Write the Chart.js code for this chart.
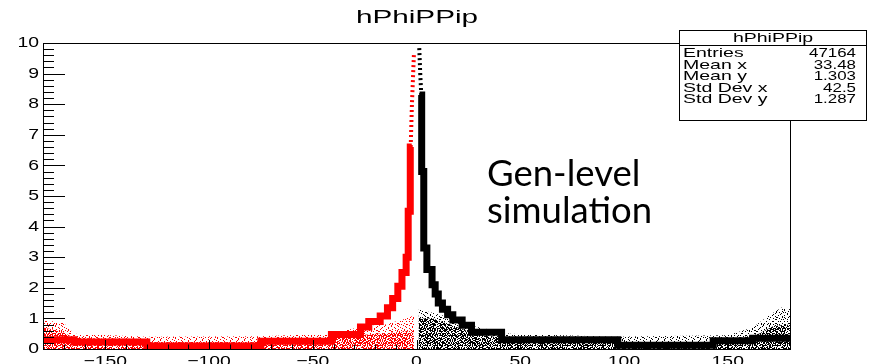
<!DOCTYPE html>
<html>
<head>
<meta charset="utf-8">
<script src="https://cdn.jsdelivr.net/npm/chart.js@4.4.1/dist/chart.umd.min.js"></script>
<style>
  html, body { margin: 0; padding: 0; background: #fff; }
  #wrap { position: relative; width: 870px; height: 364px; }
  #note { position: absolute; left: 487px; top: 154px; font-family: Lato, sans-serif; font-size: 36.5px; line-height: 37px; color: #000; }
</style>
</head>
<body>
<div id="wrap">
  <canvas id="chart" width="870" height="364"></canvas>
  <div id="note">Gen-level<br>simulation</div>
</div>
<script>
// axis labels
const xTicks = [-150, -100, -50, 0, 50, 100, 150];
const yTicks = [0, 1, 2, 3, 4, 5, 6, 7, 8, 9, 10];

// main kinematic band, phi < 0 (red) and phi > 0 (black), one level per bin
const redStepX = [-180, -165, -130, -75, -41, -27, -23, -17.5, -14, -11.5, -9, -7, -5, -4, -3, -2.3];
const redStepY = [0.3, 0.23, 0.1, 0.25, 0.47, 0.72, 0.9, 1.08, 1.35, 1.65, 2.05, 2.5, 3.0, 4.5, 6.6, 6.6];
const blackStepX = [1.5, 2.5, 3.5, 5, 7.5, 9, 10.5, 12.5, 15, 17.5, 22, 26.5, 41, 97, 143, 162, 180];
const blackStepY = [8.3, 5.8, 3.3, 2.6, 2.1, 1.8, 1.5, 1.3, 1.12, 0.95, 0.78, 0.55, 0.3, 0.12, 0.27, 0.35, 0.35];

// thin tail of the peak
const redPeakX = [-2.8, -2.2, -1.2];
const redPeakY = [6.6, 8.0, 9.7];
const blackPeakX = [2.3, 1.8, 1.3];
const blackPeakY = [8.3, 9.0, 9.9];

// upper edge of the scattered background
const redDenseX = [-180, -172, -166, -160, -130, -128, -78, -75, -42, -28, -10, -1.5];
const redDenseY = [0.7, 0.6, 0.4, 0.35, 0.33, 0.22, 0.22, 0.35, 0.35, 0.45, 0.55, 0.6];
const redSparseX = [-180, -170, -165, -130, -75, -42, -28, -15, -5, -1];
const redSparseY = [0.95, 0.85, 0.5, 0.4, 0.42, 0.5, 0.7, 0.8, 1.0, 1.1];
const blackDenseX = [1, 8, 20, 30, 45, 95, 100, 150, 155, 165, 172, 180];
const blackDenseY = [1.0, 1.0, 0.7, 0.45, 0.35, 0.3, 0.2, 0.2, 0.35, 0.5, 0.75, 0.8];
const blackSparseX = [1, 15, 27, 45, 95, 150, 162, 170, 177, 180];
const blackSparseY = [1.3, 1.05, 0.75, 0.5, 0.4, 0.45, 0.7, 1.1, 1.4, 1.3];

// stats box
const statTitle = "hPhiPPip";
const statNames = ["Entries", "Mean x", "Mean y", "Std Dev x", "Std Dev y"];
const statValues = ["47164", "33.48", "1.303", "42.5", "1.287"];

const pts = (xs, ys) => xs.map((x, i) => ({ x, y: ys[i] }));

// speckle textures: two dot lattices of different period laid over each other
const denseA = [[0,0],[2,1],[4,0],[1,2],[3,3],[0,4],[2,4],[4,3]];
const denseB = [[1,0],[5,1],[3,2],[6,2],[0,3],[4,4],[2,5],[6,5],[1,6],[5,6],[3,0],[0,6]];
const sparseA = [[1,1],[4,3],[2,5],[5,0]];
const sparseB = [[0,2],[3,6],[6,4],[5,1]];
function speckle(color, dotsA, pa, dotsB, pb) {
  const size = pa * pb;
  const c = document.createElement("canvas");
  c.width = size; c.height = size;
  const g = c.getContext("2d");
  g.fillStyle = color;
  for (let ox = 0; ox < size; ox += pa)
    for (let oy = 0; oy < size; oy += pa)
      for (const [x, y] of dotsA) g.fillRect(ox + x, oy + y, 1, 1);
  for (let ox = 0; ox < size; ox += pb)
    for (let oy = 0; oy < size; oy += pb)
      for (const [x, y] of dotsB) g.fillRect(ox + x, oy + y, 1, 1);
  return g.createPattern(c, "repeat");
}
const cx = document.getElementById("chart").getContext("2d");

function stretchText(ctx, text, x, y, size, sx, align, base) {
  ctx.save();
  ctx.translate(x, y);
  ctx.scale(sx, 1);
  ctx.font = size + 'px "Liberation Sans", Arial, sans-serif';
  ctx.textAlign = align;
  ctx.textBaseline = base;
  ctx.fillStyle = "#000";
  ctx.fillText(text, 0, 0);
  ctx.restore();
}

const rootFrame = {
  id: "rootFrame",
  afterDraw(chart) {
    const { ctx, chartArea: a, scales: { x, y } } = chart;
    ctx.save();
    ctx.strokeStyle = "#000";
    ctx.lineWidth = 1;
    ctx.strokeRect(Math.round(a.left) + 0.5, Math.round(a.top) + 0.5, Math.round(a.right - a.left), Math.round(a.bottom - a.top));

    ctx.beginPath();
    for (let v = -180; v <= 180; v += 10) {
      const px = Math.round(x.getPixelForValue(v)) + 0.5;
      const len = v % 50 === 0 ? 9 : 4.5;
      ctx.moveTo(px, a.bottom);
      ctx.lineTo(px, a.bottom - len);
    }
    for (let i = 0; i <= 50; i++) {
      const py = Math.round(y.getPixelForValue(i / 5)) + 0.5;
      const len = i % 5 === 0 ? 22 : 11;
      ctx.moveTo(a.left, py);
      ctx.lineTo(a.left + len, py);
    }
    ctx.stroke();

    for (const v of xTicks) stretchText(ctx, v < 0 ? "\u2212" + Math.abs(v) : String(v), x.getPixelForValue(v), a.bottom + 5, 15.5, 1.25, "center", "top");
    for (const v of yTicks) stretchText(ctx, String(v), a.left - 4, y.getPixelForValue(v), 15.5, 1.25, "right", "middle");

    stretchText(ctx, "hPhiPPip", 417, 23, 18, 1.65, "center", "alphabetic");

    // stats box
    const bx = 679.5, by = 30.5, bw = 187, bh = 90;
    ctx.fillStyle = "#fff";
    ctx.fillRect(bx, by, bw, bh);
    ctx.strokeRect(bx, by, bw, bh);
    ctx.beginPath();
    ctx.moveTo(bx, 45.5);
    ctx.lineTo(bx + bw, 45.5);
    ctx.stroke();
    stretchText(ctx, statTitle, bx + bw / 2, 38.5, 13, 1.5, "center", "middle");
    statNames.forEach((n, i) => {
      const ry = 53.5 + i * 11.6;
      stretchText(ctx, n, 683, ry, 13, 1.5, "left", "middle");
      stretchText(ctx, statValues[i], 856, ry, 13, 1.3, "right", "middle");
    });
    ctx.restore();
  }
};

const band = (xs, ys, pattern, order) => ({
  data: pts(xs, ys), borderWidth: 0, pointRadius: 0, fill: "origin", backgroundColor: pattern, order
});
const step = (xs, ys, color) => ({
  data: pts(xs, ys), stepped: "before", borderColor: color, borderWidth: 7, pointRadius: 0, fill: false, order: 1
});
const tail = (xs, ys, color) => ({
  data: pts(xs, ys), borderColor: color, borderWidth: 4, borderDash: [2, 3], pointRadius: 0, fill: false, order: 0
});

new Chart(cx, {
  type: "line",
  data: {
    datasets: [
      band(redSparseX, redSparseY, speckle("#ff0000", sparseA, 6, sparseB, 7), 3),
      band(blackSparseX, blackSparseY, speckle("#000000", sparseA, 6, sparseB, 7), 3),
      band(redDenseX, redDenseY, speckle("#ff0000", denseA, 5, denseB, 7), 2),
      band(blackDenseX, blackDenseY, speckle("#000000", denseA, 5, denseB, 7), 2),
      step(redStepX, redStepY, "#ff0000"),
      step(blackStepX, blackStepY, "#000000"),
      tail(redPeakX, redPeakY, "#ff0000"),
      tail(blackPeakX, blackPeakY, "#000000")
    ]
  },
  options: {
    responsive: false,
    animation: false,
    events: [],
    layout: { padding: { left: 43, right: 80, top: 43, bottom: 15 } },
    plugins: { legend: { display: false }, tooltip: { enabled: false } },
    scales: {
      x: { type: "linear", min: -180, max: 180, ticks: { display: false }, grid: { display: false, drawTicks: false }, border: { display: false } },
      y: { type: "linear", min: 0, max: 10, ticks: { display: false }, grid: { display: false, drawTicks: false }, border: { display: false } }
    }
  },
  plugins: [rootFrame]
});
</script>
</body>
</html>
